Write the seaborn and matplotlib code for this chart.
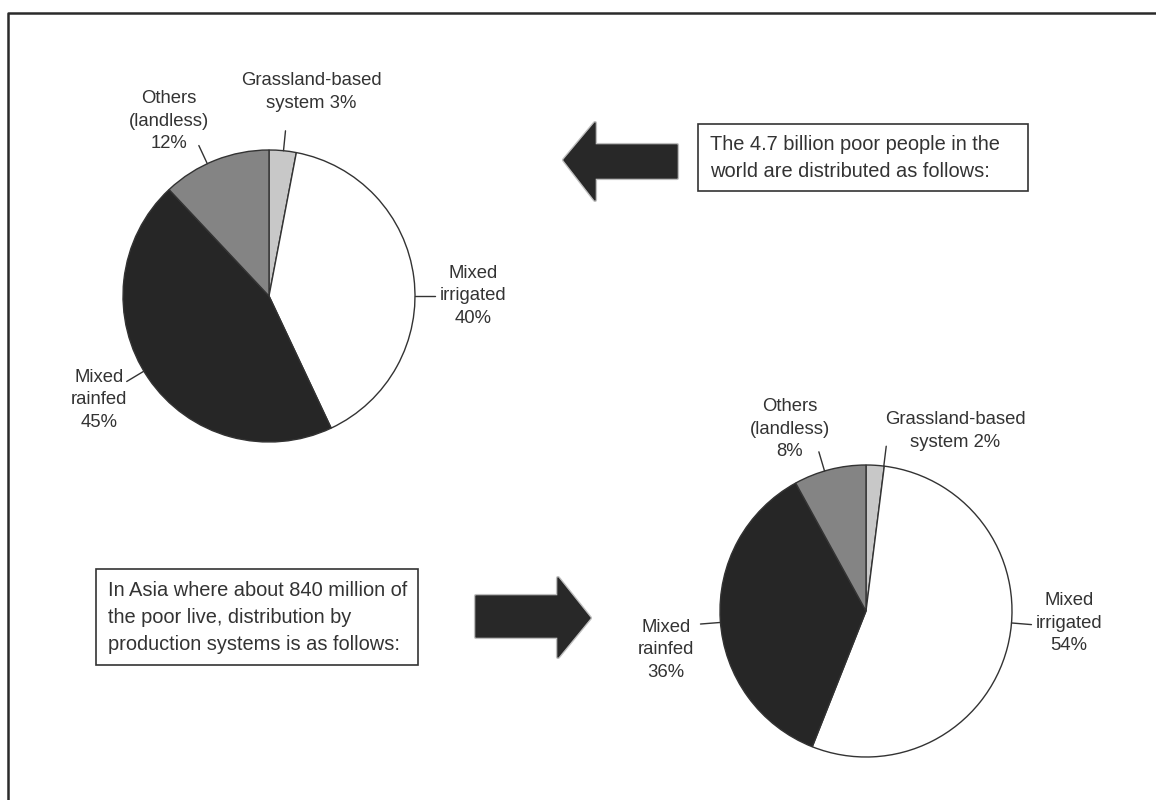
import matplotlib
matplotlib.use("Agg")
import numpy as np
import matplotlib.pyplot as plt
import seaborn as sns
from matplotlib.patches import Polygon, Rectangle
from matplotlib.lines import Line2D
import matplotlib.patheffects as pe

# Shares of the poor by production system
categories = ["Grassland-based system", "Mixed irrigated", "Mixed rainfed", "Others (landless)"]
world_share = [3, 40, 45, 12]
asia_share = [2, 54, 36, 8]
label_formats = ["Grassland-based\nsystem {}%", "Mixed\nirrigated\n{}%",
                 "Mixed\nrainfed\n{}%", "Others\n(landless)\n{}%"]
world_note = "The 4.7 billion poor people in the\nworld are distributed as follows:"
asia_note = "In Asia where about 840 million of\nthe poor live, distribution by\nproduction systems is as follows:"

sns.set_theme(style="white")
plt.rcParams["font.family"] = ["Liberation Sans", "DejaVu Sans"]

W, H = 1156, 800
fig = plt.figure(figsize=(W / 100, H / 100), dpi=100)
ax = fig.add_axes([0, 0, 1, 1])

INK = "#333333"
wedge_colors = ["#c8c8c8", "#ffffff", "#262626", "#848484"]
LABEL_FS = 13.3
NOTE_FS = 14.4


def Y(y):
    return H - y


def draw_pie(values, cx, cy, r, leader_angles, label_pos):
    ax.pie(values, colors=wedge_colors, startangle=90, counterclock=False,
           center=(cx, Y(cy)), radius=r,
           wedgeprops=dict(edgecolor=INK, linewidth=1.0))
    for v, fmt, ang, (lx, ly) in zip(values, label_formats, leader_angles, label_pos):
        a = np.deg2rad(ang)
        x0, y0 = cx + r * np.cos(a), Y(cy) + r * np.sin(a)
        x1, y1 = cx + (r + 20) * np.cos(a), Y(cy) + (r + 20) * np.sin(a)
        ax.add_line(Line2D([x0, x1], [y0, y1], color=INK, lw=1.0))
        ax.text(lx, Y(ly), fmt.format(v), ha="center", va="center",
                fontsize=LABEL_FS, color=INK, linespacing=1.42,
                multialignment="center")


draw_pie(world_share, 269, 296, 146,
         [84.3, 0, -149, 115],
         [(311, 92), (473, 296), (99, 400), (169, 121)])
draw_pie(asia_share, 866, 611, 146,
         [83, -4.7, -175.5, 106.5],
         [(955, 431), (1069, 623), (666, 650), (790, 429)])


def arrow(points):
    poly = Polygon([(x, Y(y)) for x, y in points], closed=True,
                   facecolor="#282828", edgecolor="#282828", linewidth=1.0,
                   joinstyle="round")
    poly.set_path_effects([pe.Stroke(linewidth=3, foreground="#282828", alpha=0.3),
                           pe.Normal()])
    ax.add_patch(poly)


# Left-pointing arrow towards the world pie
arrow([(564, 160), (595, 123), (595, 145), (677, 145), (677, 178), (595, 178), (595, 200)])
# Right-pointing arrow towards the Asia pie
arrow([(590, 618), (558, 578), (558, 596), (476, 596), (476, 637), (558, 637), (558, 657)])

# Note boxes
for (x0, y0, x1, y1), txt in [((698, 124, 1028, 191), world_note),
                              ((96, 569, 418, 665), asia_note)]:
    ax.add_patch(Rectangle((x0, Y(y1)), x1 - x0, y1 - y0, facecolor="white",
                           edgecolor=INK, linewidth=1.2))
    ax.text(x0 + 12, Y((y0 + y1) / 2 + 0.5), txt, ha="left", va="center",
            fontsize=NOTE_FS, color=INK, linespacing=1.5)

# Page frame
ax.add_line(Line2D([7.5, 7.5, W + 5], [-5, Y(12.5), Y(12.5)], color="#2a2a2a", lw=1.8))

ax.set_xlim(0, W)
ax.set_ylim(0, H)
ax.set_aspect("equal")
ax.axis("off")

fig.savefig("out.png", dpi=100, facecolor="white")
